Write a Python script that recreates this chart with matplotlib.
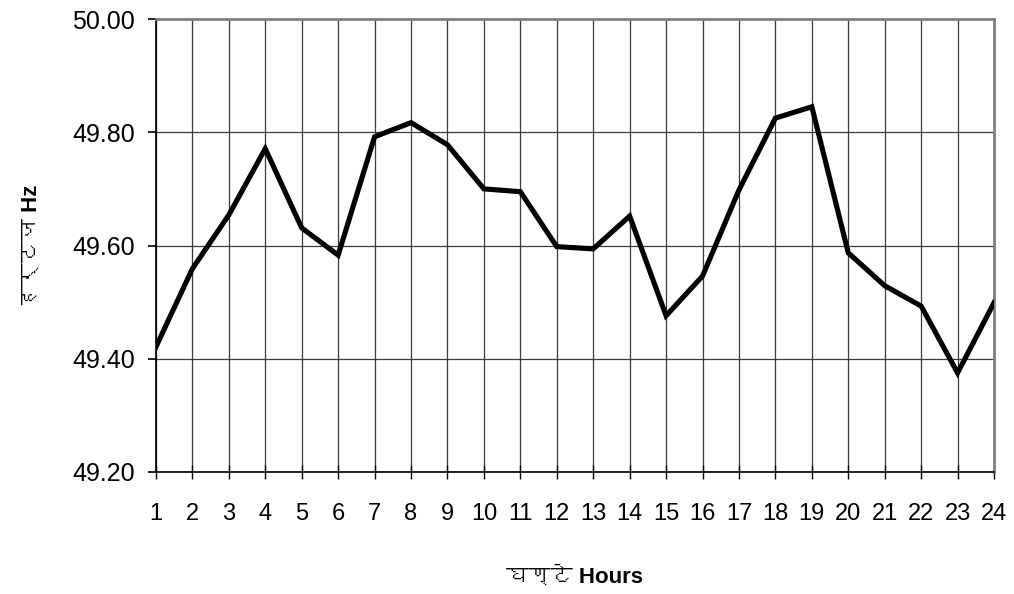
import matplotlib
matplotlib.use("Agg")
import matplotlib.pyplot as plt
from matplotlib import font_manager

# hourly frequency readings (Hz)
hours = list(range(1, 25))
freq = [49.421, 49.559, 49.654, 49.771, 49.631, 49.583, 49.792, 49.817,
        49.778, 49.700, 49.695, 49.598, 49.594, 49.652, 49.476, 49.546,
        49.698, 49.825, 49.845, 49.587, 49.529, 49.493, 49.375, 49.499]
yticks = [49.20, 49.40, 49.60, 49.80, 50.00]

xlabel = "घण्टे Hours"
ylabel = "हर्टज Hz"


def find_font(ch):
    # look for an installed font that has the glyph
    try:
        from fontTools.ttLib import TTFont
    except ImportError:
        return None
    for f in font_manager.fontManager.ttflist:
        try:
            tt = TTFont(f.fname, fontNumber=0, lazy=True)
            if ord(ch) in tt.getBestCmap():
                return f.name
        except Exception:
            pass
    return None


deva = find_font("घ")
families = ["Liberation Sans"]
if deva:
    families.append(deva)
families.append("DejaVu Sans")
plt.rcParams["font.family"] = families

fig = plt.figure(figsize=(10.14, 5.94), dpi=100)
ax = fig.add_axes([0.1538, 0.2054, 0.8265, 0.7626])

ax.plot(hours, freq, color="black", lw=3.7, solid_joinstyle="miter", zorder=3)

ax.set_xlim(1, 24)
ax.set_ylim(49.20, 50.00)
ax.set_xticks(hours)
ax.set_yticks(yticks)
ax.set_yticklabels(["%.2f" % v for v in yticks])

ax.grid(True, color="#3a3a3a", lw=0.9)
ax.set_axisbelow(True)

ax.spines["left"].set_color("black")
ax.spines["left"].set_linewidth(1.2)
ax.spines["bottom"].set_color("black")
ax.spines["bottom"].set_linewidth(1.2)
ax.spines["top"].set_color("#808080")
ax.spines["top"].set_linewidth(2)
ax.spines["right"].set_color("#808080")
ax.spines["right"].set_linewidth(2)

ax.tick_params(axis="y", direction="out", length=6, width=1.2, labelsize=18, pad=9)
ax.tick_params(axis="x", direction="inout", length=10, width=1, labelsize=17, pad=17)

ax.set_xlabel(xlabel, fontsize=16, fontweight="bold", labelpad=30)
ax.set_ylabel(ylabel, fontsize=16, fontweight="bold", labelpad=22)

fig.savefig("out.png", dpi=100, facecolor="white")
